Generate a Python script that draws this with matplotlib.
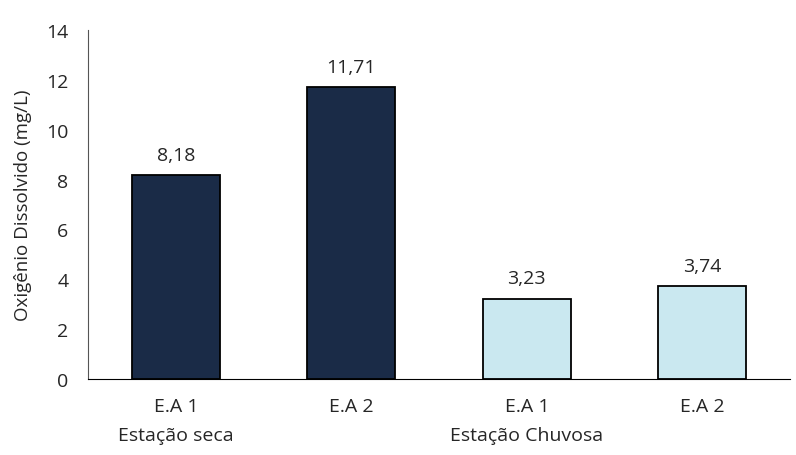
import matplotlib
matplotlib.use("Agg")
import matplotlib.pyplot as plt

estacoes = ["E.A 1\nEstação seca", "E.A 2", "E.A 1\nEstação Chuvosa", "E.A 2"]
oxigenio = [8.18, 11.71, 3.23, 3.74]
cores = ["#1a2b47", "#1a2b47", "#cae8f0", "#cae8f0"]
yticks = [0, 2, 4, 6, 8, 10, 12, 14]

plt.rcParams['font.family'] = ['Open Sans', 'DejaVu Sans']
texto = "#262626"

fig = plt.figure(figsize=(7.96, 4.56), dpi=100)
ax = fig.add_axes([0.1106, 0.1667, 0.8819, 0.765])

x = range(len(oxigenio))
bars = ax.bar(x, oxigenio, width=0.5, color=cores, edgecolor="black", linewidth=1.3, zorder=2)

for b, v in zip(bars, oxigenio):
    ax.text(b.get_x() + b.get_width() / 2, v + 0.45, f"{v:.2f}".replace(".", ","),
            ha="center", va="bottom", fontsize=14, color=texto)

ax.set_xlim(-0.5, 3.5)
ax.set_ylim(0, 14)
ax.set_yticks(yticks)
ax.set_yticklabels([str(t) for t in yticks], fontsize=14, color=texto)
ax.set_xticks(list(x))
ax.set_xticklabels(estacoes, fontsize=14, color=texto, linespacing=1.75)
ax.tick_params(axis="y", length=0, pad=14)
ax.tick_params(axis="x", length=0, pad=13)

for s in ["top", "right"]:
    ax.spines[s].set_visible(False)
ax.spines["left"].set_color("#555555")
ax.spines["bottom"].set_color("black")

ax.set_ylabel("Oxigênio Dissolvido (mg/L)", fontsize=13.5, color=texto, labelpad=10)

fig.savefig("out.png", dpi=100)
